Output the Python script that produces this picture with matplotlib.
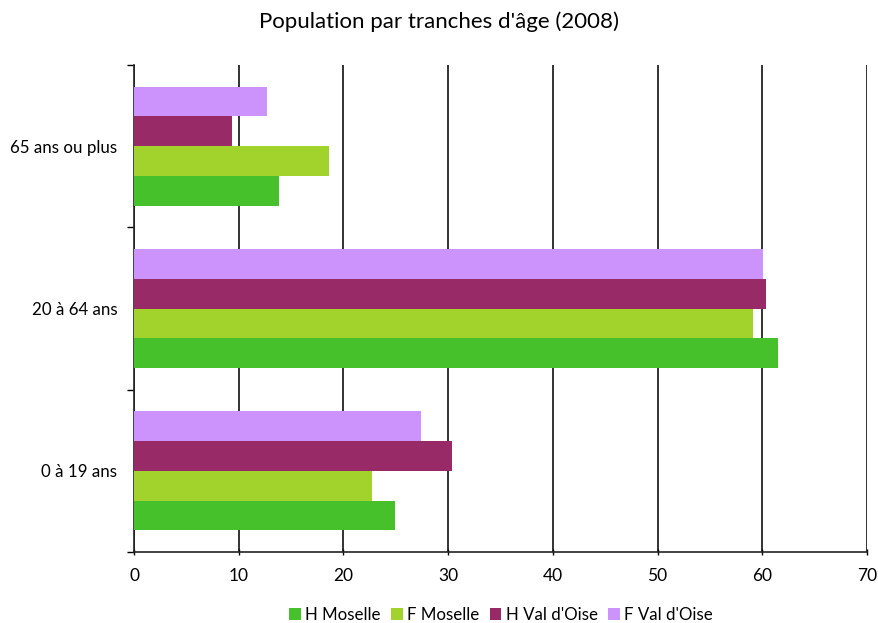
import numpy as np
import matplotlib
matplotlib.use("Agg")
import matplotlib.pyplot as plt

categories = ["0 à 19 ans", "20 à 64 ans", "65 ans ou plus"]
series_names = ["H Moselle", "F Moselle", "H Val d'Oise", "F Val d'Oise"]
h_moselle = [24.9, 61.5, 13.8]
f_moselle = [22.7, 59.1, 18.65]
h_valdoise = [30.4, 60.4, 9.4]
f_valdoise = [27.4, 60.1, 12.7]
colors = ["#46c12c", "#a2d32d", "#982b67", "#cc93fc"]

plt.rcParams["font.family"] = ["Lato", "DejaVu Sans"]

fig = plt.figure(figsize=(8.79, 6.23), dpi=100)
ax = fig.add_axes([134 / 879, 1 - 552 / 623, (867 - 134) / 879, (552 - 65) / 623])

y = np.arange(len(categories))
h = 0.183
for i, (name, vals) in enumerate(zip(series_names, [h_moselle, f_moselle, h_valdoise, f_valdoise])):
    ax.barh(y + (i - 1.5) * h, vals, height=h, color=colors[i], label=name, zorder=3)

ax.set_xlim(0, 70)
ax.set_ylim(-0.5, 2.5)
ax.set_xticks(np.arange(0, 71, 10))
ax.set_yticks(y)
ax.set_yticklabels(categories)
ax.set_yticks(np.arange(-0.5, 2.6, 1), minor=True)
ax.tick_params(axis="y", which="major", length=0, pad=12, labelsize=12.2)
ax.tick_params(axis="y", which="minor", length=5, width=1, direction="out")
ax.tick_params(axis="x", length=5, width=1, direction="inout", labelsize=12.5, pad=9)
ax.xaxis.grid(True, color="#111111", linewidth=1.2, zorder=0)
for side in ["top", "right"]:
    ax.spines[side].set_visible(False)
for side in ["left", "bottom"]:
    ax.spines[side].set_color("#222222")
    ax.spines[side].set_linewidth(1.2)

fig.suptitle("Population par tranches d'âge (2008)", y=0.982, fontsize=16)
fig.legend(loc="lower center", bbox_to_anchor=(0.57, -0.025), ncol=4, frameon=False,
           fontsize=12.2, handlelength=0.7, handleheight=0.7, handletextpad=0.25,
           columnspacing=0.6)

fig.savefig("out.png", dpi=100)
